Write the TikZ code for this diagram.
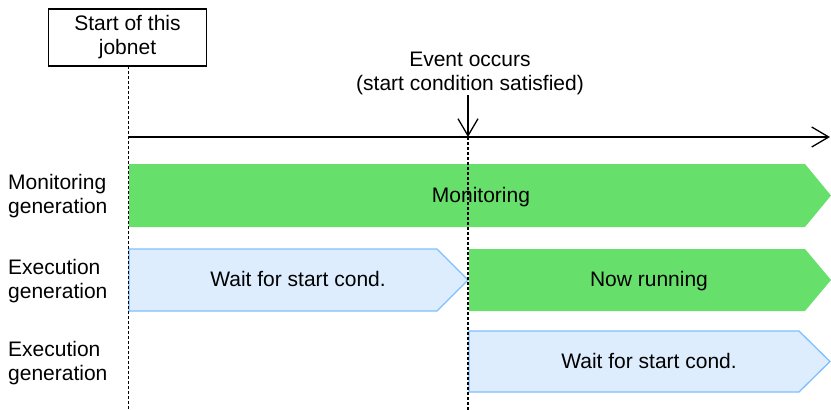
\documentclass[tikz,border=0pt]{standalone}
\usepackage{fontspec}
\setmainfont{Liberation Sans}
\usetikzlibrary{arrows.meta}
\definecolor{gfill}{HTML}{66E06B}
\definecolor{bfill}{HTML}{DDEDFD}
\definecolor{bline}{HTML}{80BFFF}
\begin{document}
\begin{tikzpicture}[x=1pt,y=-1pt,
  font=\fontsize{21}{24}\selectfont,
  dashline/.style={line width=1.6pt, dash pattern=on 3pt off 2pt},
  axisline/.style={line width=1.6pt},
  barb/.style={-{Straight Barb[length=17pt,width=20pt,line width=1.3pt]}},
  greenbar/.style={fill=gfill},
  bluebar/.style={fill=bfill, draw=bline, line width=1.3pt},
  lbl/.style={anchor=west, align=left, inner sep=0pt},
  txt/.style={inner sep=0pt, align=center, anchor=base}]
\useasboundingbox (0,0) rectangle (831,410);
% bars
\path[greenbar] (129,164) -- (805,164) -- (831,195.5) -- (805,227) -- (129,227) -- cycle;
\path[bluebar] (129,249) -- (437,249) -- (468,280) -- (437,311) -- (129,311) -- cycle;
\path[greenbar] (469,249) -- (805,249) -- (831,280) -- (805,311) -- (469,311) -- cycle;
\path[bluebar] (469,331) -- (799,331) -- (830,361.5) -- (799,392) -- (469,392) -- cycle;
% bar texts
\node[txt] (mon) at (481,202) {Monitoring};
\node[txt] (wait1) at (298,286) {Wait for start cond.};
\node[txt] (run) at (649,286) {Now running};
\node[txt] (wait2) at (649,368) {Wait for start cond.};
% left labels
\node[lbl] (l1) at (8,196) {Monitoring\\generation};
\node[lbl] (l2) at (8,281) {Execution\\generation};
\node[lbl] (l3) at (8,363) {Execution\\generation};
% start box
\node[draw, line width=1.5pt, minimum width=158pt, minimum height=57pt, inner sep=0pt, align=center] (start) at (127.5,37.5) {Start of this\\jobnet};
\coordinate (s0) at (128.5,66);
\coordinate (s1) at (128.5,410);
\coordinate (a0) at (128.5,137);
\coordinate (a1) at (830,137);
% event
\node[inner sep=0pt, align=center] (ev) at (470,73.5) {Event occurs\\(start condition satisfied)};
\coordinate (e0) at (468,95);
\coordinate (e1) at (468,137);
\coordinate (e2) at (468,410);
% lines
\draw[dashline] (s0) -- (s1);
\draw[dashline] (e1) -- (e2);
\draw[axisline, barb] (a0) -- (a1);
\draw[line width=1.3pt, barb] (e0) -- (e1);
\end{tikzpicture}
\end{document}
